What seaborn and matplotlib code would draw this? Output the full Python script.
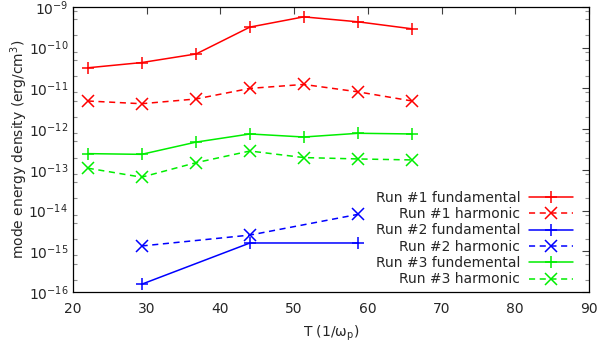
import numpy as np
import pandas as pd
import matplotlib
matplotlib.use('Agg')
import matplotlib.pyplot as plt
import matplotlib.ticker as mticker
import seaborn as sns

# T values (1/omega_p)
t_all = [22.0, 29.3, 36.7, 44.0, 51.3, 58.7, 66.0]
t_run2 = [29.3, 44.0, 58.7]

# mode energy density (erg/cm^3)
run1_fund = [3.2e-11, 4.3e-11, 7.0e-11, 3.2e-10, 5.7e-10, 4.3e-10, 2.9e-10]
run1_harm = [4.9e-12, 4.2e-12, 5.5e-12, 1.0e-11, 1.25e-11, 8.2e-12, 4.9e-12]
run2_fund = [1.55e-16, 1.6e-15, 1.6e-15]
run2_harm = [1.35e-15, 2.5e-15, 8.1e-15]
run3_fund = [2.5e-13, 2.4e-13, 4.8e-13, 7.6e-13, 6.4e-13, 7.9e-13, 7.6e-13]
run3_harm = [1.1e-13, 6.6e-14, 1.5e-13, 2.9e-13, 2.0e-13, 1.85e-13, 1.75e-13]

labels = ['Run #1 fundamental', 'Run #1 harmonic',
          'Run #2 fundamental', 'Run #2 harmonic',
          'Run #3 fundemental', 'Run #3 harmonic']
series = [(t_all, run1_fund), (t_all, run1_harm),
          (t_run2, run2_fund), (t_run2, run2_harm),
          (t_all, run3_fund), (t_all, run3_harm)]
colors = ['#ff0000', '#ff0000', '#0000ff', '#0000ff', '#00ee00', '#00ee00']

# Build long dataframe
frames = []
for lab, (t, e) in zip(labels, series):
    frames.append(pd.DataFrame({'T': t, 'E': e, 'run': lab}))
df = pd.concat(frames, ignore_index=True)

sns.set_style('white')
plt.rcParams['font.family'] = ['DejaVu Sans']

fig = plt.figure(figsize=(6, 3.46), dpi=100)
ax = fig.add_axes([0.1217, 0.156, 0.86, 0.824])

palette = dict(zip(labels, colors))
markers = {l: ('+' if 'fund' in l else 'x') for l in labels}
dashes = {l: ('' if 'fund' in l else (4, 3)) for l in labels}

sns.lineplot(data=df, x='T', y='E', hue='run', style='run',
             palette=palette, markers=markers, dashes=dashes,
             markersize=8.5, markeredgewidth=1.1, linewidth=1.1,
             hue_order=labels, style_order=labels, ax=ax)

# line-art markers: give them the line colour
for ln in ax.lines:
    ln.set_markeredgecolor(ln.get_color())

ax.set_yscale('log')
ax.set_xlim(20, 90)
ax.set_ylim(1e-16, 1e-9)
ax.yaxis.set_major_locator(mticker.LogLocator(base=10, numticks=20))
ax.yaxis.set_minor_locator(mticker.LogLocator(base=10, subs=(2, 5, 8), numticks=20))
ax.yaxis.set_minor_formatter(mticker.NullFormatter())

ax.tick_params(axis='both', which='major', direction='in', length=5, width=0.8,
               color='#404040', top=True, right=True, labelsize=10)
ax.tick_params(axis='y', which='major', pad=3.5)
ax.tick_params(axis='x', which='major', pad=7)
ax.tick_params(axis='y', which='minor', direction='in', length=3, width=0.8,
               color='#909090', left=True, right=True)
for sp in ax.spines.values():
    sp.set_color('black')
    sp.set_linewidth(0.9)

ax.set_xlabel('T (1/ω$_\\mathrm{p}$)', fontsize=10, labelpad=6)
ax.set_ylabel('mode energy density (erg/cm$^3$)', fontsize=10)
ax.yaxis.set_label_coords(-0.083, 0.5)

leg = ax.legend(loc='lower right', bbox_to_anchor=(0.98, 0.0), frameon=False,
                markerfirst=False, handlelength=3.2, handletextpad=0.6,
                labelspacing=0.17, fontsize=10, borderaxespad=0)
for h in leg.get_lines():
    h.set_markeredgecolor(h.get_color())

fig.savefig('out.png', dpi=100)
